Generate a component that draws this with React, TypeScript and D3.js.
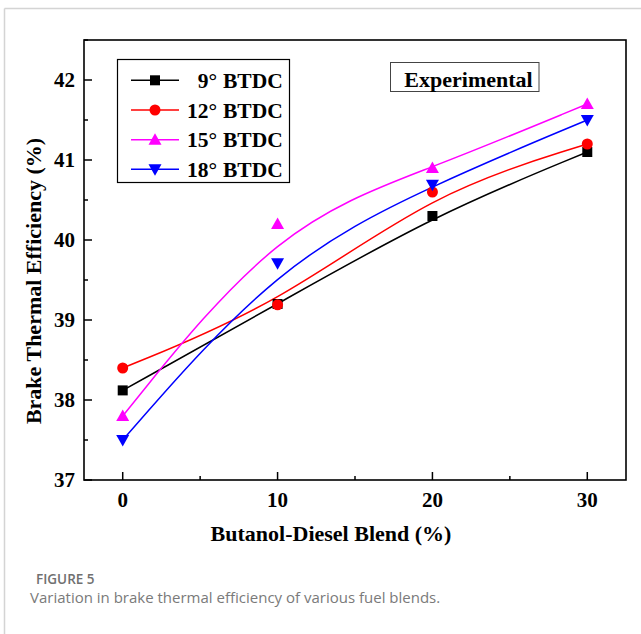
import React from "react";
import * as d3 from "d3";

const blends = [0, 10, 20, 30];
const series9 = [38.12, 39.2, 40.3, 41.1];
const series12 = [38.4, 39.19, 40.6, 41.2];
const series15 = [37.8, 40.2, 40.9, 41.7];
const series18 = [37.5, 39.71, 40.69, 41.5];
const seriesNames = ["9°", "12°", "15°", "18°"];
const xTicks = [0, 10, 20, 30];
const xMinorTicks = [5, 15, 25];
const yTicks = [37, 38, 39, 40, 41, 42];
const yMinorTicks = [37.5, 38.5, 39.5, 40.5, 41.5, 42.5];

const W = 641;
const H = 634;
const left = 84;
const right = 626;
const top = 40;
const bottom = 480;

const serif = "'Liberation Serif', 'Times New Roman', serif";
const sans = "'Open Sans', 'Noto Sans', sans-serif";

type Marker = "square" | "circle" | "up" | "down";

const seriesList: { name: string; values: number[]; color: string; marker: Marker }[] = [
  { name: seriesNames[0], values: series9, color: "#000000", marker: "square" },
  { name: seriesNames[1], values: series12, color: "#ff0000", marker: "circle" },
  { name: seriesNames[2], values: series15, color: "#ff00ff", marker: "up" },
  { name: seriesNames[3], values: series18, color: "#0000ff", marker: "down" },
];

function MarkerShape({ type, x, y, color }: { type: Marker; x: number; y: number; color: string }) {
  if (type === "square") return <rect x={x - 5} y={y - 5} width={10} height={10} fill={color} />;
  if (type === "circle") return <circle cx={x} cy={y} r={5.5} fill={color} />;
  if (type === "up")
    return <path d={`M${x},${y - 6.5} L${x + 6.5},${y + 5} L${x - 6.5},${y + 5} Z`} fill={color} />;
  return <path d={`M${x},${y + 6.5} L${x + 6.5},${y - 5} L${x - 6.5},${y - 5} Z`} fill={color} />;
}

export default function App() {
  const x = d3.scaleLinear().domain([-2.5, 32.5]).range([left, right]);
  const y = d3.scaleLinear().domain([37, 42.5]).range([bottom, top]);

  // smoothed B-spline trend through each series
  const line = d3
    .line<number>()
    .x((_, i) => x(blends[i]))
    .y((v) => y(v))
    .curve(d3.curveBasis);

  const legendRows = [80.3, 110, 139.7, 169.3];

  return (
    <svg width={W} height={H} style={{ display: "block", position: "absolute", left: 0, top: 0 }}>
      <rect x={0} y={0} width={W} height={H} fill="#ffffff" />
      {/* card border */}
      <line x1={4.5} y1={8.5} x2={W} y2={8.5} stroke="#d4d4d4" strokeWidth={1.5} />
      <line x1={4.5} y1={8.5} x2={4.5} y2={H} stroke="#d4d4d4" strokeWidth={1.5} />

      {/* series curves */}
      {seriesList.map((s) => (
        <path key={s.name} d={line(s.values) || ""} fill="none" stroke={s.color} strokeWidth={1.5} />
      ))}
      {/* markers */}
      {seriesList.map((s) =>
        s.values.map((v, i) => (
          <MarkerShape key={s.name + i} type={s.marker} x={x(blends[i])} y={y(v)} color={s.color} />
        ))
      )}

      {/* frame */}
      <rect x={left} y={top} width={right - left} height={bottom - top} fill="none" stroke="#000" strokeWidth={1.6} />

      {/* x ticks */}
      {xTicks.map((t) => (
        <g key={"xt" + t}>
          <line x1={x(t)} x2={x(t)} y1={bottom} y2={bottom - 8} stroke="#000" strokeWidth={1.5} />
          <text x={x(t)} y={507} textAnchor="middle" fontFamily={serif} fontWeight="bold" fontSize={21}>
            {t}
          </text>
        </g>
      ))}
      {xMinorTicks.map((t) => (
        <line key={"xm" + t} x1={x(t)} x2={x(t)} y1={bottom} y2={bottom - 4} stroke="#000" strokeWidth={1.5} />
      ))}

      {/* y ticks */}
      {yTicks.map((t) => (
        <g key={"yt" + t}>
          <line x1={left} x2={left + 8} y1={y(t)} y2={y(t)} stroke="#000" strokeWidth={1.5} />
          <text x={75} y={y(t) + 7} textAnchor="end" fontFamily={serif} fontWeight="bold" fontSize={21}>
            {t}
          </text>
        </g>
      ))}
      {yMinorTicks.map((t) => (
        <line key={"ym" + t} x1={left} x2={left + 4} y1={y(t)} y2={y(t)} stroke="#000" strokeWidth={1.5} />
      ))}

      {/* axis titles */}
      <text x={331} y={541} textAnchor="middle" fontFamily={serif} fontWeight="bold" fontSize={22}>
        Butanol-Diesel Blend (%)
      </text>
      <text
        transform={`translate(40.5,281) rotate(-90)`}
        textAnchor="middle"
        fontFamily={serif}
        fontWeight="bold"
        fontSize={22}
      >
        Brake Thermal Efficiency (%)
      </text>

      {/* legend */}
      <rect x={117.5} y={59.5} width={172} height={123} fill="#fff" stroke="#000" strokeWidth={1.2} />
      {seriesList.map((s, i) => (
        <g key={"lg" + s.name}>
          <line x1={131} x2={179} y1={legendRows[i]} y2={legendRows[i]} stroke={s.color} strokeWidth={1.5} />
          <MarkerShape type={s.marker} x={155} y={legendRows[i]} color={s.color} />
          <text x={217} y={legendRows[i] + 7.5} textAnchor="end" fontFamily={serif} fontWeight="bold" fontSize={21.5}>
            {s.name}
          </text>
          <text x={223} y={legendRows[i] + 7.5} fontFamily={serif} fontWeight="bold" fontSize={21.5}>
            BTDC
          </text>
        </g>
      ))}

      {/* annotation */}
      <rect x={390.5} y={62.5} width={148.5} height={29} fill="#fff" stroke="#444" strokeWidth={1} />
      <text x={468.5} y={86.5} textAnchor="middle" fontFamily={serif} fontWeight="bold" fontSize={22}>
        Experimental
      </text>

      {/* caption */}
      <text x={36} y={583.5} fontFamily={sans} fontWeight={600} fontSize={13.5} fill="#707070">
        FIGURE 5
      </text>
      <text x={30} y={603} fontFamily={sans} fontSize={15} fill="#7a7a7a">
        Variation in brake thermal efficiency of various fuel blends.
      </text>
    </svg>
  );
}
